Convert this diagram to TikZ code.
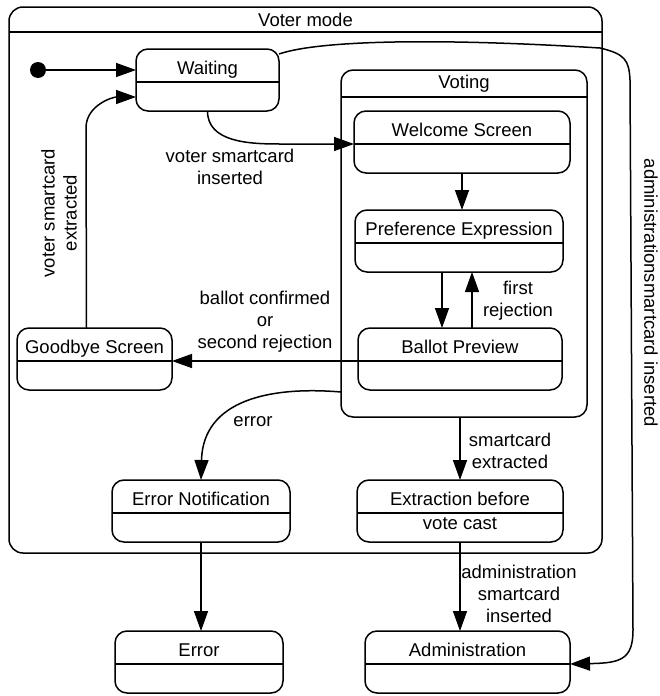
\documentclass[tikz,border=0pt]{standalone}
\usepackage{fontspec}
\setmainfont{Liberation Sans}
\usetikzlibrary{arrows.meta,calc}

\tikzset{
    umlstate/.style={draw, line width=1.5pt, rounded corners=12pt, anchor=north west,
        inner sep=0pt, outer sep=0pt, minimum height=62pt},
    statename/.style={anchor=base, inner sep=0pt},
    divider/.style={line width=1.5pt},
    trans/.style={line width=1.5pt, -{Triangle[length=20pt,width=14pt]}},
    lbl/.style={align=center, inner sep=0pt}
}

\begin{document}
\begin{tikzpicture}[x=1pt, y=1pt, font=\fontsize{18.5}{22}\selectfont]
    \useasboundingbox (0,0) rectangle (659,-696);

    % Draw the composite states
    \node[umlstate, rounded corners=14pt, minimum width=593pt, minimum height=546pt] (voter) at (9,-7) {};
    \draw[divider] ($(voter.north west)+(0,-25)$) -- ($(voter.north east)+(0,-25)$);
    \node[statename] (voter-name) at ($(voter.north)+(0,-19)$) {Voter mode};

    \node[umlstate, minimum width=246pt, minimum height=347pt] (voting) at (341,-70) {};
    \draw[divider] ($(voting.north west)+(0,-27)$) -- ($(voting.north east)+(0,-27)$);
    \node[statename] (voting-name) at ($(voting.north)+(0,-18)$) {Voting};

    % Draw the simple states
    \foreach \n/\x/\y/\w/\t in {wait/136/49/143/Waiting, welcome/354/111/216/Welcome Screen,
        pref/355/210/208/Preference Expression, ballot/358/328/204/Ballot Preview,
        goodbye/17/328/155/Goodbye Screen, errnot/112/480/178/Error Notification,
        extr/357/480/206/Extraction before, error/115/631/168/Error,
        admin/365/631/205/Administration} {
        \node[umlstate, minimum width=\w pt] (\n) at (\x,-\y) {};
        \draw[divider] ($(\n.north west)+(0,-33)$) -- ($(\n.north east)+(0,-33)$);
        \node[statename] (\n-name) at ($(\n.north)+(0,-25)$) {\t};
    }
    \node[statename] (extr-sub) at ($(extr.north)+(0,-49)$) {vote cast};

    % Initial pseudo state
    \node[circle, fill, minimum size=16pt, inner sep=0pt] (init) at (38,-70) {};

    % Draw the transitions
    \draw[trans] (init) -- (init -| wait.west);
    \draw[trans] ($(goodbye.north)+(-8,0)$) -- (86,-128) to[out=90,in=180] ($(wait.south west)+(0,14)$);
    \draw[trans] (wait.south) to[out=-90,in=180] (280,-144) -- ($(welcome.north west)+(0,-33)$);
    \draw[trans] (welcome.south) -- (welcome.south |- pref.north);
    \draw[trans] ($(pref.south)+(-17,0)$) -- ($(ballot.north)+(-18,0)$);
    \draw[trans] ($(ballot.north)+(12,0)$) -- ($(pref.south)+(13,0)$);
    \draw[trans] ($(ballot.north west)+(0,-33)$) -- ($(goodbye.north east)+(0,-33)$);
    \draw[trans] ($(voting.south west)+(0,25)$) .. controls (270,-386) and (203,-400) .. (errnot.north);
    \draw[trans] (extr.north |- voting.south) -- (extr.north);
    \draw[trans] (errnot.south) -- (errnot.south |- error.north);
    \draw[trans] (extr.south) -- (extr.south |- admin.north);
    \draw[trans] ($(wait.north east)+(0,-5)$) .. controls (320,-40) and (440,-38) .. (600,-48)
        .. controls (625,-54) and (629,-60) .. (630,-80) -- (633,-630)
        .. controls (633,-660) and (620,-663) .. ($(admin.north east)+(0,-33)$);

    % Transition labels
    \node[lbl] (l-inserted) at (230,-167) {voter smartcard\\inserted};
    \node[lbl, rotate=90] (l-extracted) at (59,-213) {voter smartcard\\extracted};
    \node[lbl] (l-confirmed) at (265,-322) {ballot confirmed\\or\\second rejection};
    \node[lbl] (l-first) at (518,-301) {first\\rejection};
    \node[lbl] (l-error) at (253,-422) {error};
    \node[lbl] (l-smartcard) at (510,-451) {smartcard\\extracted};
    \node[lbl] (l-admin) at (519,-594) {administration\\smartcard\\inserted};
    \node[lbl, rotate=-90] (l-adminside) at (651,-293) {administrationsmartcard inserted};

\end{tikzpicture}
\end{document}
